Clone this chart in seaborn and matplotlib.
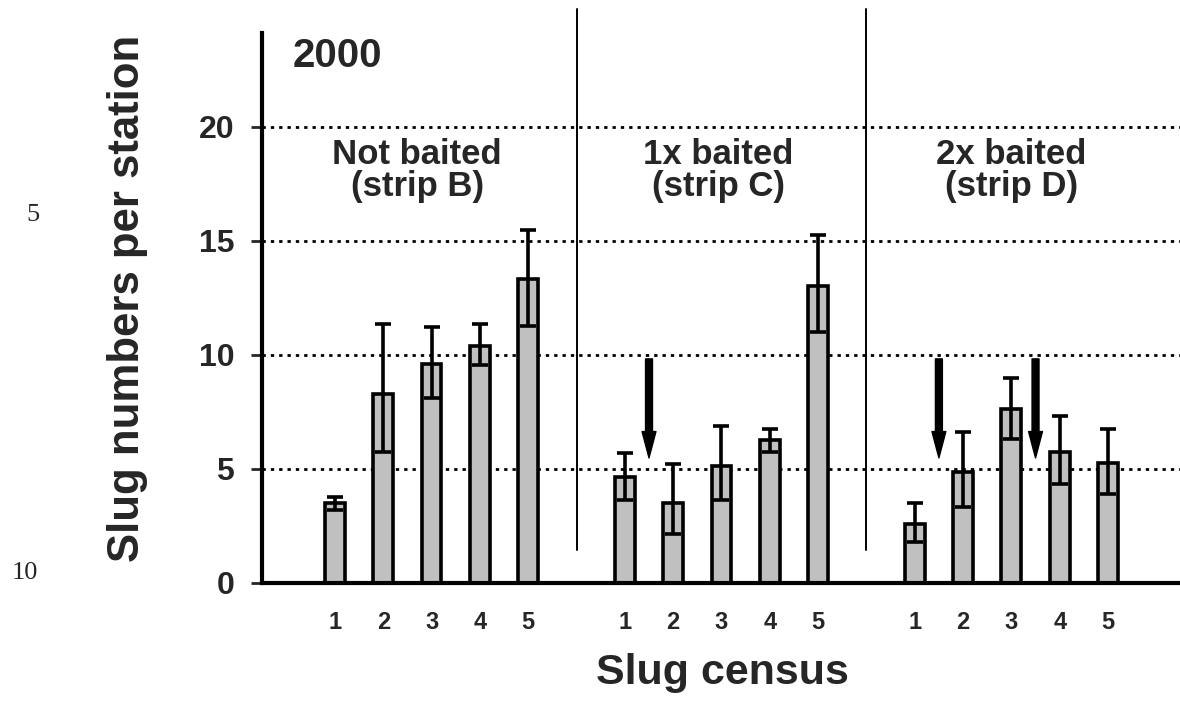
import numpy as np
import pandas as pd
import matplotlib
matplotlib.use("Agg")
import matplotlib.pyplot as plt
import seaborn as sns

# Slug census results per strip (mean slugs per station with error range)
census = ["1", "2", "3", "4", "5"]
strips = ["Not baited\n(strip B)", "1x baited\n(strip C)", "2x baited\n(strip D)"]

mean_b = [3.5, 8.3, 9.6, 10.4, 13.3]
low_b = [3.2, 5.75, 8.1, 9.55, 11.25]
high_b = [3.77, 11.35, 11.2, 11.35, 15.45]

mean_c = [4.65, 3.5, 5.13, 6.25, 13.0]
low_c = [3.65, 2.15, 3.65, 5.75, 11.0]
high_c = [5.7, 5.2, 6.88, 6.75, 15.25]

mean_d = [2.6, 4.87, 7.62, 5.75, 5.25]
low_d = [1.8, 3.33, 6.3, 4.33, 3.9]
high_d = [3.5, 6.6, 9.0, 7.3, 6.75]

# Bait applications (census position between visits, in slot units)
bait_times = [6.5, 12.5, 14.5]

yticks = [0, 5, 10, 15, 20]

# ---- layout of the slots: five census bars per strip, gap of one slot between strips
group_start = [0, 6, 12]
pos = np.concatenate([np.arange(5) + s for s in group_start])
means = np.array(mean_b + mean_c + mean_d)
lows = np.array(low_b + low_c + low_d)
highs = np.array(high_b + high_c + high_d)

df = pd.DataFrame({"pos": pos, "value": means})

sns.set_style("white")
plt.rcParams["font.family"] = ["Liberation Sans", "DejaVu Sans"]

fig = plt.figure(figsize=(11.8, 7.11), dpi=100)
ax = fig.add_axes([262 / 1180, 128 / 711, 918 / 1180, 550 / 711])

ax.set_axisbelow(True)
ax.yaxis.grid(True, linestyle=(0, (1.2, 1.8)), linewidth=2.0, color="black")
ax.xaxis.grid(False)

sns.barplot(data=df, x="pos", y="value", native_scale=True, color="#c0c0c0",
            saturation=1, edgecolor="black", linewidth=2.6, width=0.41,
            errorbar=None, ax=ax, zorder=2)

ax.errorbar(pos, means, yerr=[means - lows, highs - means], fmt="none",
            ecolor="black", elinewidth=2.6, capsize=5.5, capthick=2.6, zorder=3)

ax.set_xlim(-1.51, 17.49)
ax.set_ylim(0, 24.1)

# strip separators
for xs in [5, 11]:
    ax.plot([xs, xs], [1.45, 25.13], color="black", linewidth=1.4, clip_on=False, zorder=4)

# bait application arrows
for xb in bait_times:
    ax.annotate("", xy=(xb, 5.48), xytext=(xb, 9.82),
                arrowprops=dict(facecolor="black", edgecolor="black", width=5,
                                headwidth=10, headlength=19, shrink=0),
                zorder=5)

# strip titles
for s, label in zip([1.7, 7.93, 14.0], strips):
    ax.text(s, 19.5, label, ha="center", va="top", fontsize=25,
            fontweight="bold", linespacing=0.95)

ax.text(-0.87, 22.6, "2000", ha="left", va="baseline", fontsize=29, fontweight="bold")

ax.set_xticks(pos)
ax.set_xticklabels(census * 3)
ax.set_yticks(yticks)
ax.tick_params(axis="x", length=0, pad=20, labelsize=17)
ax.tick_params(axis="y", length=8, width=2, pad=12, labelsize=23, direction="out", left=True)
for lab in ax.get_xticklabels() + ax.get_yticklabels():
    lab.set_fontweight("bold")

for side in ["top", "right"]:
    ax.spines[side].set_visible(False)
for side in ["left", "bottom"]:
    ax.spines[side].set_linewidth(3)
    ax.spines[side].set_color("black")

ax.set_xlabel("Slug census", fontsize=31, fontweight="bold")
ax.set_ylabel("Slug numbers per station", fontsize=31.5, fontweight="bold")
ax.xaxis.set_label_coords(0.502, -0.128)
ax.yaxis.set_label_coords(-0.124, 0.518)

# manuscript line numbers
fig.text(33 / 1180, 1 - 215 / 711, "5", family="Liberation Serif", fontsize=19,
         fontweight="normal", ha="center", va="center")
fig.text(12 / 1180, 1 - 573 / 711, "10", family="Liberation Serif", fontsize=19,
         fontweight="normal", ha="left", va="center")

fig.savefig("out.png", dpi=100)
